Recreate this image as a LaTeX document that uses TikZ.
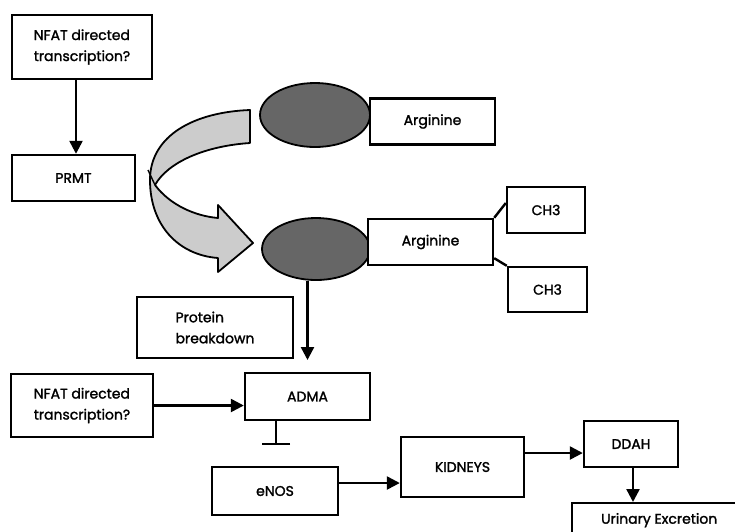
\documentclass[tikz,border=0pt]{standalone}
\usepackage{fontspec}
\setmainfont{Poppins}[FakeBold=1.6]
\usetikzlibrary{arrows.meta,shapes.geometric,calc}
\begin{document}
\begin{tikzpicture}[x=1pt,y=-1pt,
  box/.style={draw,line width=2.4pt,fill=white,inner sep=0pt,align=left,font=\fontsize{14}{21}\selectfont},
  blob/.style={ellipse,draw,line width=1.8pt,fill=black!60,inner sep=0pt},
  arr/.style={line width=2.4pt,-{Triangle[width=13pt,length=13pt]}},
  link/.style={line width=2.4pt}]
\useasboundingbox (0,0) rectangle (735,531);
\clip (0,0) rectangle (735,531);
% curved block arrow
\path[draw,line width=1.8pt,fill=black!20,line join=round]
  (250,110) -- (250,143)
  .. controls (205,146) and (168,162) .. (155,185)
  .. controls (170,205) and (195,216) .. (218,218)
  -- (218,205) -- (253,243) -- (218,272) -- (218,258)
  .. controls (178,255) and (150,225) .. (150,180)
  .. controls (150,135) and (195,112) .. (250,110) -- cycle;
\draw[line width=1.4pt] (155,185) -- (148,170);
% nodes
\node[box,minimum width=140,minimum height=64] (nfat1) at (82,47) {NFAT directed\\transcription?};
\node[box,minimum width=123,minimum height=46,align=center] (prmt) at (73.5,178) {PRMT};
\node[blob,minimum width=110,minimum height=64] (ell1) at (315,115) {};
\node[box,minimum width=125,minimum height=46,align=center] (arg1) at (432.5,121.5) {Arginine};
\node[blob,minimum width=108,minimum height=62] (ell2) at (316,249) {};
\node[box,minimum width=125,minimum height=46,align=center] (arg2) at (430.5,242) {Arginine};
\node[box,minimum width=78,minimum height=46,align=center] (ch3a) at (546,210) {CH3};
\node[box,minimum width=79,minimum height=45,align=center] (ch3b) at (547.5,289.5) {CH3};
\node[box,minimum width=156,minimum height=61] (prot) at (215,327.5) {Protein\\breakdown};
\node[box,minimum width=142,minimum height=63] (nfat2) at (82,405.5) {NFAT directed\\transcription?};
\node[box,minimum width=125,minimum height=47,align=center] (adma) at (307.5,396.5) {ADMA};
\node[box,minimum width=126,minimum height=48,align=center] (enos) at (275,491) {eNOS};
\node[box,minimum width=123,minimum height=60,align=center] (kid) at (462.5,467) {KIDNEYS};
\node[box,minimum width=94,minimum height=46,align=center] (ddah) at (631,444) {DDAH};
\node[box,minimum width=174,minimum height=34,align=center,anchor=north west] (urin) at (571,502) {Urinary Excretion};
% connectors
\coordinate (admaIn) at (307.5,360);
\coordinate (inh) at (276,445);
\draw[arr] (nfat1.south) ++(-6,0) coordinate (n1s) -- (n1s |- prmt.north);
\draw[link] (arg2.north east) -- ([yshift=7pt]ch3a.west);
\draw[link] ([yshift=8pt]arg2.south east) -- (ch3b.north west);
\draw[arr] (ell2.south -| admaIn) -- (admaIn);
\draw[arr] (nfat2.east) -- (nfat2.east -| adma.west);
\draw[line width=2.4pt,-{Bar[width=28pt]}] (inh |- adma.south) -- (inh);
\draw[arr] ([yshift=8pt]enos.east) coordinate (e1) -- (e1 -| kid.west);
\draw[arr] ([yshift=14pt]kid.east) coordinate (k1) -- (k1 -| ddah.west);
\draw[arr] (ddah.south) ++(2,0) coordinate (d1) -- (d1 |- urin.north);
\end{tikzpicture}
\end{document}
